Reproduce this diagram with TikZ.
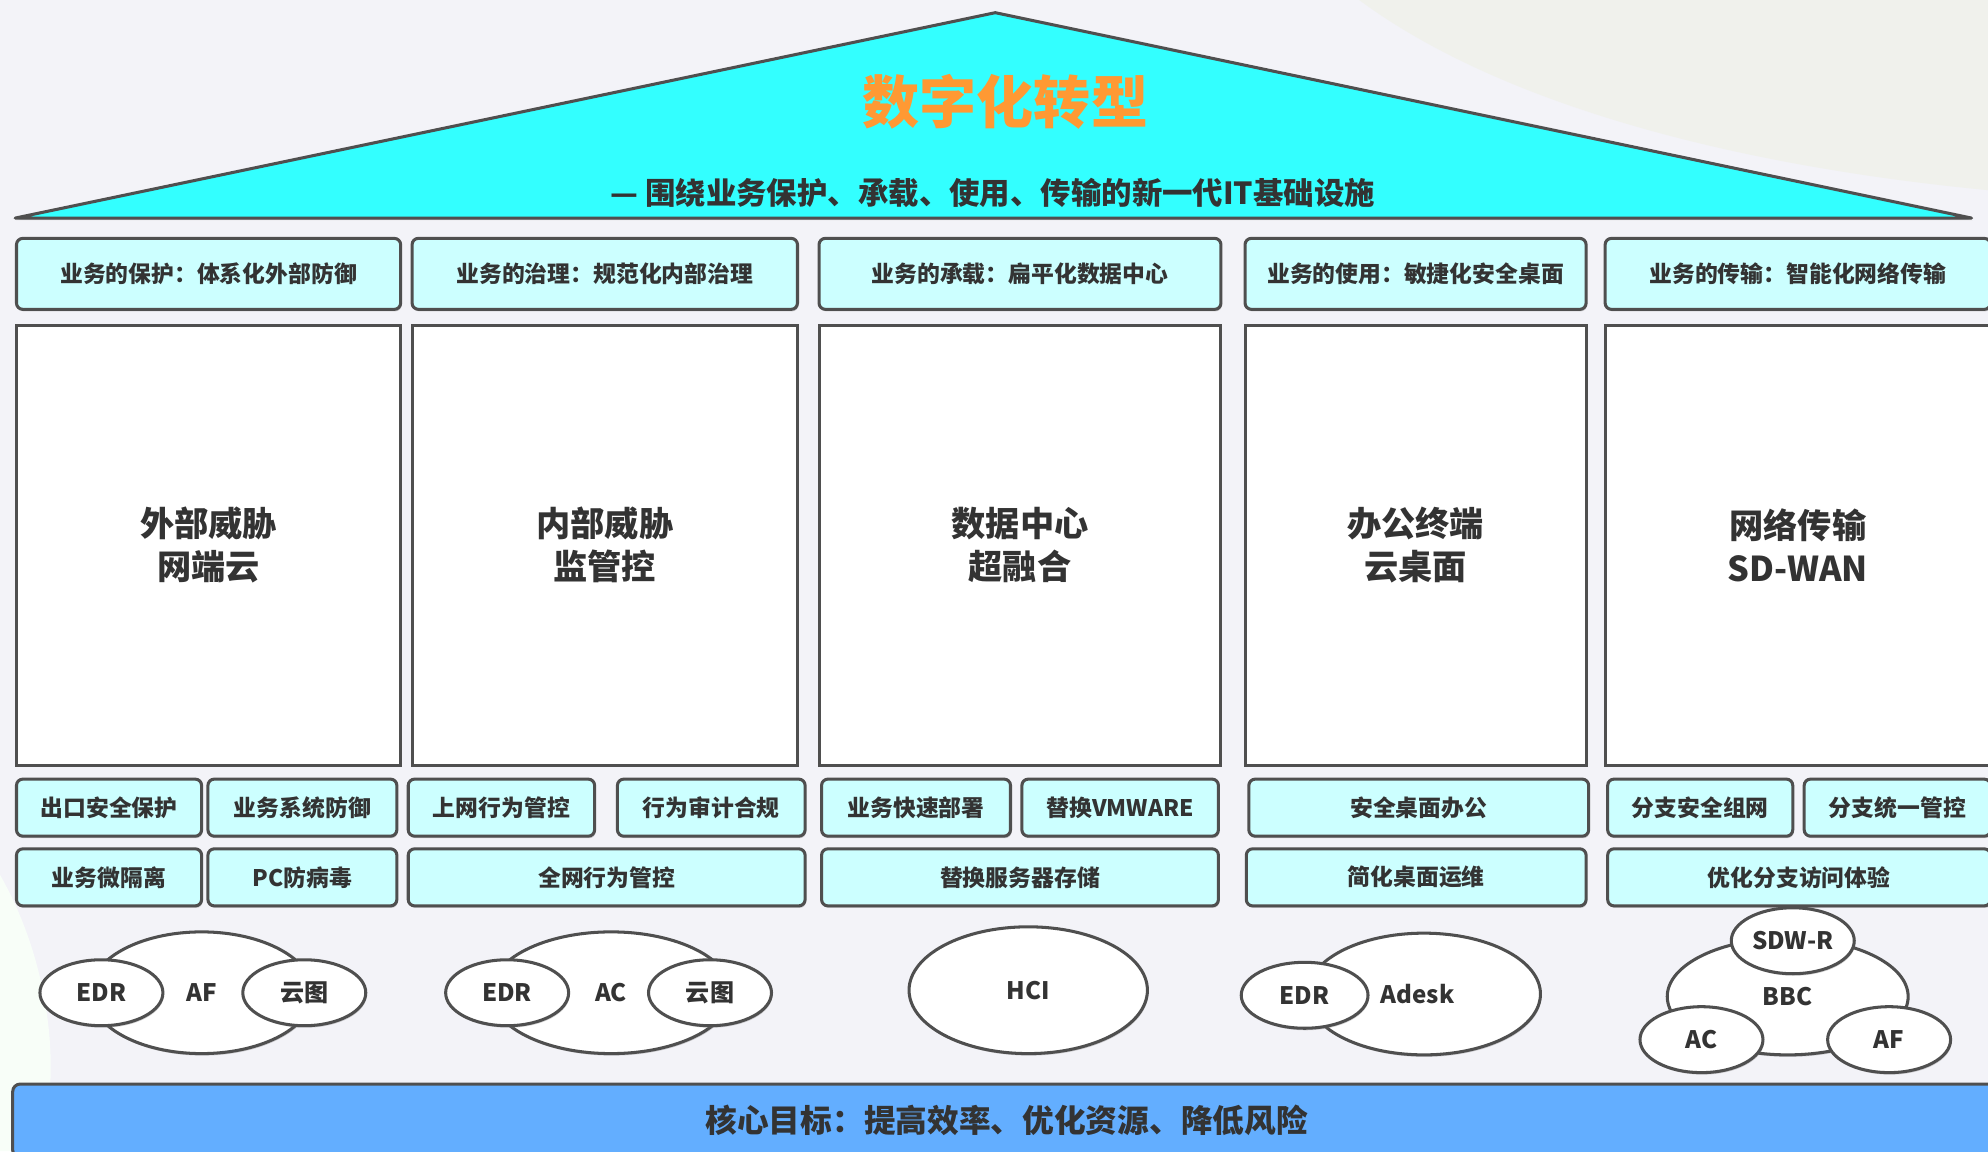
\documentclass[tikz,border=0pt]{standalone}
\usepackage{fontspec}
\setmainfont{Noto Sans CJK SC}
\usetikzlibrary{shapes.geometric,shadows}
\definecolor{roofcyan}{HTML}{33FFFF}
\definecolor{boxcyan}{HTML}{CCFFFF}
\definecolor{barblue}{HTML}{63AEFF}
\definecolor{titleorange}{HTML}{FF9933}
\definecolor{bggray}{HTML}{F3F3F8}
\definecolor{bglight}{HTML}{F0F1EC}
\definecolor{txtgray}{HTML}{333333}
\definecolor{edgegray}{HTML}{4F4F4F}
\tikzset{
  boxline/.style={draw=edgegray,line width=2.4pt,
    drop shadow={shadow xshift=0.8pt,shadow yshift=-1.6pt,opacity=0.35}},
  head/.style={boxline,fill=boxcyan,rounded corners=5pt,minimum height=56pt,
    inner sep=0pt,text=txtgray,font=\bfseries\fontsize{18}{20}\selectfont},
  pillar/.style={boxline,fill=white,minimum height=347pt,inner sep=0pt,
    text=txtgray,align=center,font=\bfseries\fontsize{27}{34}\selectfont},
  item/.style={head,minimum height=45pt},
  cloud/.style={boxline,ellipse,fill=white,inner sep=0pt,text=txtgray,
    font=\bfseries\fontsize{19}{20}\selectfont},
  bubble/.style={cloud,minimum width=97pt,minimum height=52pt},
  goalbar/.style={boxline,fill=barblue,rounded corners=6pt,inner sep=0pt,
    text=txtgray,font=\bfseries\fontsize{25}{28}\selectfont}
}
\begin{document}
\begin{tikzpicture}[x=1pt,y=-1pt]
\useasboundingbox (0,0) rectangle (1568,908);
\clip (0,0) rectangle (1568,908);
% background
\fill[bggray] (0,0) rectangle (1568,908);
\fill[bglight] (1072,0) .. controls (1180,80) and (1360,130) .. (1568,150) -- (1568,0) -- cycle;
\fill[bglight!70!green!8] (0,690) .. controls (40,760) and (50,850) .. (30,908) -- (0,908) -- cycle;

% roof
\draw[boxline,fill=roofcyan,line join=round] (12,172) -- (785,10) -- (1555,172) -- cycle;
\node[text=titleorange,font=\bfseries\fontsize{45}{48}\selectfont] (title) at (793,80) {数字化转型};
\node[text=txtgray,font=\bfseries\fontsize{24}{26}\selectfont] (subtitle) at (783,152)
  {— 围绕业务保护、承载、使用、传输的新一代IT基础设施};

% header row, edit here for the five columns
\foreach \cx/\w/\txt [count=\i] in {164.5/303/{业务的保护：体系化外部防御},
  477/304/{业务的治理：规范化内部治理}, 804.5/317/{业务的承载：扁平化数据中心},
  1116.5/269/{业务的使用：敏捷化安全桌面}, 1418/304/{业务的传输：智能化网络传输}}
\node[head,minimum width=\w pt] (head\i) at (\cx,216) {\txt};

% pillars
\foreach \cx/\w/\txt [count=\i] in {164.5/303/{外部威胁\\网端云},
  477/304/{内部威胁\\监管控}, 804.5/317/{数据中心\\超融合},
  1116.5/269/{办公终端\\云桌面}, 1418/304/{网络传输\\SD-WAN}}
\node[pillar,minimum width=\w pt] (pillar\i) at (\cx,430) {\txt};

% first row of items
\foreach \cx/\w/\txt [count=\i] in {86/146/出口安全保护, 238.5/149/业务系统防御,
  395.5/147/上网行为管控, 561/148/行为审计合规, 722.5/149/业务快速部署,
  883.5/155/替换VMWARE, 1119/268/安全桌面办公, 1341/146/分支安全组网,
  1496.5/147/分支统一管控}
\node[item,minimum width=\w pt] (itemA\i) at (\cx,637) {\txt};

% second row of items
\foreach \cx/\w/\txt [count=\i] in {86/146/业务微隔离, 238.5/149/PC防病毒,
  478.5/313/全网行为管控, 804.5/313/替换服务器存储, 1117/268/简化桌面运维,
  1419/302/优化分支访问体验}
\node[item,minimum width=\w pt] (itemB\i) at (\cx,692) {\txt};

% products
\node[cloud,minimum width=176pt,minimum height=96pt] (af) at (159,783) {AF};
\node[bubble] (edr1) at (80,783) {EDR};
\node[bubble] (yuntu1) at (240,783) {云图};

\node[cloud,minimum width=190pt,minimum height=96pt] (ac) at (482,783) {AC};
\node[bubble] (edr2) at (400,783) {EDR};
\node[bubble] (yuntu2) at (560,783) {云图};

\node[cloud,minimum width=188pt,minimum height=100pt] (hci) at (811,781) {HCI};

\node[cloud,minimum width=184pt,minimum height=96pt] (adesk) at (1123,784) {\hspace*{-10pt}Adesk};
\node[bubble,minimum width=100pt] (edr4) at (1029,785) {EDR};

\node[cloud,minimum width=190pt,minimum height=92pt] (bbc) at (1410,786) {BBC};
\node[bubble] (sdwr) at (1414,742) {SDW-R};
\node[bubble] (ac5) at (1342,820) {AC};
\node[bubble] (af5) at (1490,820) {AF};

% core goal
\node[goalbar,minimum width=1568pt,minimum height=58pt] (goal) at (794,884)
  {核心目标：提高效率、优化资源、降低风险};
\end{tikzpicture}
\end{document}
